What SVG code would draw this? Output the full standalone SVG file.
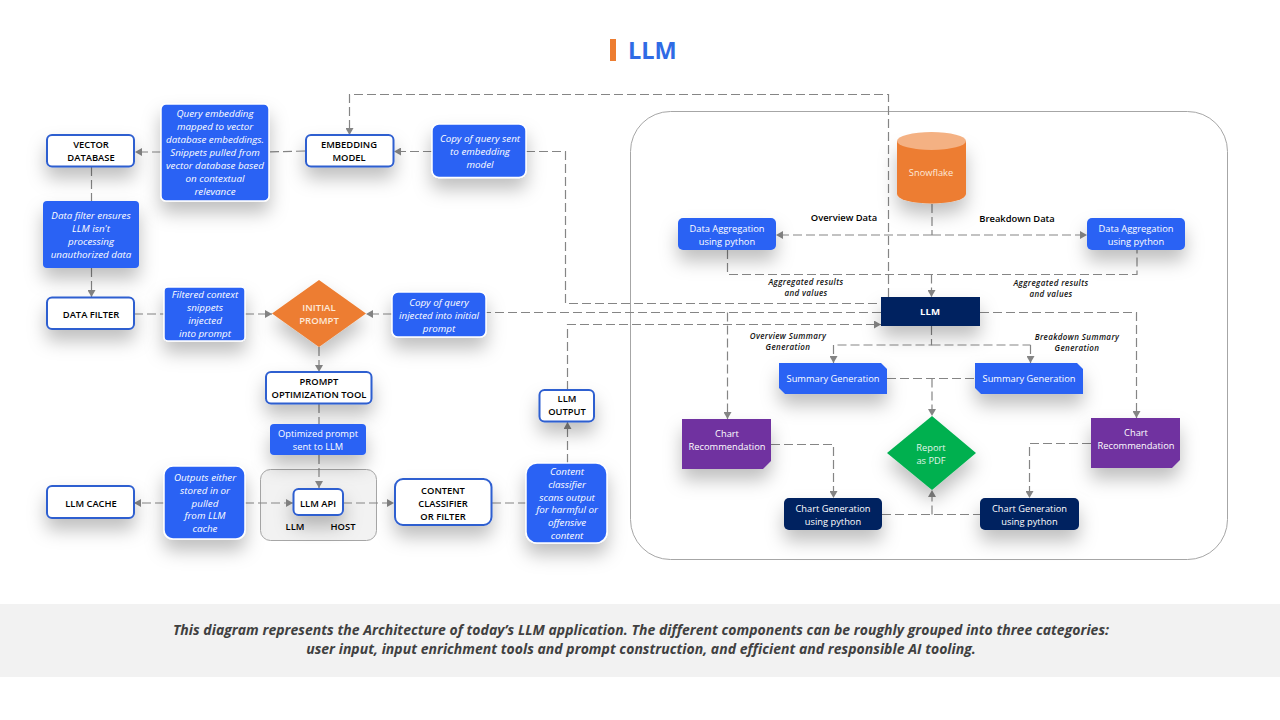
<svg xmlns="http://www.w3.org/2000/svg" width="1280" height="720" viewBox="0 0 1280 720">
<style>
text{font-family:"Open Sans","Liberation Sans",sans-serif;font-size:9.6px;text-anchor:middle}
.w{fill:#fff;stroke:#2f5fd0;stroke-width:2}
.b{fill:#2962f4;stroke:#fff;stroke-width:1.5}
.b2{fill:#2962f4}
.n{fill:#002060}
.p{fill:#7030a0}
.tw{fill:#fff;font-size:9.3px}
.ti{fill:#fff;font-style:italic;font-size:9.8px}
.tk{fill:#000;font-weight:600;font-size:9.4px}
.tc{fill:#111;font-style:italic;font-weight:600;font-size:8px;letter-spacing:.38px}
.c{fill:none;stroke:#858585;stroke-width:1.2;stroke-dasharray:9 4}
.a{marker-end:url(#ah)}
.f{font-size:14px;font-weight:700;font-style:italic;fill:#404040;letter-spacing:.03px}
</style>
<defs>
<marker id="ah" markerUnits="userSpaceOnUse" markerWidth="8" markerHeight="8" refX="7" refY="4" orient="auto"><path d="M0 0L7 4L0 8z" fill="#858585"/></marker>
<filter id="s" x="-50%" y="-50%" width="200%" height="260%"><feDropShadow dx="0" dy="11" stdDeviation="9" flood-color="#000" flood-opacity=".25"/></filter>
</defs>
<rect width="1280" height="720" fill="#fff"/>
<g id="title"><rect x="610" y="39" width="6" height="22" fill="#ed7d31"/><text x="628" y="59" style="text-anchor:start;font-size:23.500px;font-weight:700;fill:#2f6be5">LLM</text></g>
<rect id="footer-band" x="0" y="604" width="1280" height="73" fill="#f2f2f2"/>
<g id="footer"><text class="f" x="641" y="635">This diagram represents the Architecture of today’s LLM application. The different components can be roughly grouped into three categories:</text><text class="f" x="641" y="654">user input, input enrichment tools and prompt construction, and efficient and responsible AI tooling.</text></g>
<rect id="container" x="630.500" y="111.500" width="597" height="448" rx="40" fill="#fff" stroke="#a6a6a6" stroke-width="1"/>
<g id="host"><rect x="260.500" y="469.500" width="116" height="71" rx="10" fill="#f2f2f2" stroke="#a6a6a6"/><text class="tk" x="295" y="530">LLM</text><text class="tk" x="343" y="530">HOST</text></g>
<g id="connectors">
<path class="c" d="M305 151L269 152"/><path class="c a" d="M161 152H135"/>
<path class="c" d="M91.500 167V201"/><path class="c a" d="M91.500 268V297"/>
<path class="c" d="M134 314H164"/><path class="c a" d="M245 314H272"/>
<path class="c a" d="M392 314H366"/>
<path class="c" d="M881 312.500H486"/>
<path class="c a" d="M888.500 297V94.500H349.500V135"/>
<path class="c a" d="M432 151.500H394"/>
<path class="c" d="M526 151.500H565.500V303.500H881"/>
<path class="c a" d="M567.500 390V324.500H881"/>
<path class="c a" d="M727.500 312.500V419"/>
<path class="c a" d="M980 312.500H1136.500V418"/>
<path class="c" d="M727.500 250V274.500H1137V250"/>
<path class="c a" d="M931.500 274.500V297"/>
<path class="c" d="M932 204V235"/>
<path class="c a" d="M932 235H776"/><path class="c a" d="M932 235H1087"/>
<path class="c" d="M931.500 326V345H833.500"/><path class="c" d="M931.500 345H1030.500"/>
<path class="c a" d="M833.500 345V363"/><path class="c a" d="M1030.500 345V363"/>
<path class="c" d="M887 378.500H975"/><path class="c a" d="M932 378.500V416"/>
<path class="c" d="M882 514.500H980"/><path class="c a" d="M932 514.500V490"/>
<path class="c a" d="M771 444.500H833.500V498"/>
<path class="c a" d="M1091 443.500H1029.500V498"/>
<path class="c a" d="M319 347V372"/><path class="c" d="M319 404V424"/><path class="c a" d="M319 455V488"/>
<path class="c a" d="M164 503H134"/><path class="c a" d="M245 503H293"/>
<path class="c a" d="M343 503H394"/><path class="c" d="M492 503H526"/>
<path class="c a" d="M567.500 463V422"/>
</g>
<g id="vector-database"><rect class="w" x="47" y="135" width="87" height="31.500" rx="5" filter="url(#s)"/><text class="tk"><tspan x="91" y="148">VECTOR</tspan><tspan x="91" y="161">DATABASE</tspan></text></g>
<g id="query-note"><rect class="b" x="161" y="104" width="108" height="97" rx="5" filter="url(#s)"/><text class="ti"><tspan x="215" y="117">Query embedding</tspan><tspan x="215" y="130">mapped to vector</tspan><tspan x="215" y="143">database embeddings.</tspan><tspan x="215" y="155.500">Snippets pulled from</tspan><tspan x="215" y="168.500">vector database based</tspan><tspan x="215" y="181.500">on contextual</tspan><tspan x="215" y="194.500">relevance</tspan></text></g>
<g id="embedding-model"><rect class="w" x="306" y="135" width="87.500" height="31.500" rx="5" filter="url(#s)"/><text class="tk"><tspan x="349" y="148">EMBEDDING</tspan><tspan x="349" y="161">MODEL</tspan></text></g>
<g id="copy-embedding-note"><rect class="b" x="432" y="124" width="94" height="53.500" rx="7" filter="url(#s)"/><text class="ti"><tspan x="480" y="141.500">Copy of query sent</tspan><tspan x="480" y="154.500">to embedding</tspan><tspan x="480" y="167.500">model</tspan></text></g>
<g id="data-filter-note"><rect class="b2" x="43" y="201" width="96" height="67" rx="4" filter="url(#s)"/><text class="ti"><tspan x="91" y="219">Data filter ensures</tspan><tspan x="91" y="232">LLM isn't</tspan><tspan x="91" y="245">processing</tspan><tspan x="91" y="257.500">unauthorized data</tspan></text></g>
<g id="data-filter"><rect class="w" x="47" y="297.500" width="87" height="31.500" rx="5" filter="url(#s)"/><text class="tk" x="91" y="318">DATA FILTER</text></g>
<g id="filtered-note"><rect class="b" x="164" y="287" width="81" height="54" rx="4" filter="url(#s)"/><text class="ti"><tspan x="205" y="298">Filtered context</tspan><tspan x="205" y="311">snippets</tspan><tspan x="205" y="324">injected</tspan><tspan x="205" y="336.500">into prompt</tspan></text></g>
<g id="initial-prompt"><path d="M319 280L366 313.500L319 347L272 313.500Z" fill="#ed7d31" filter="url(#s)"/><text style="fill:#fde9d9;font-weight:600"><tspan x="319" y="311">INITIAL</tspan><tspan x="319" y="324">PROMPT</tspan></text></g>
<g id="copy-initial-note"><rect class="b" x="392" y="292" width="94" height="45" rx="6" filter="url(#s)"/><text class="ti"><tspan x="439" y="305.500">Copy of query</tspan><tspan x="439" y="318.500">injected into initial</tspan><tspan x="439" y="331.500">prompt</tspan></text></g>
<g id="prompt-optimization"><rect class="w" x="266" y="372" width="105.500" height="31.500" rx="5" filter="url(#s)"/><text class="tk"><tspan x="319" y="385">PROMPT</tspan><tspan x="319" y="398">OPTIMIZATION TOOL</tspan></text></g>
<g id="optimized-note"><rect class="b2" x="270" y="424" width="96" height="31" rx="4" filter="url(#s)"/><text class="tw"><tspan x="318" y="436.500">Optimized prompt</tspan><tspan x="318" y="449.500">sent to LLM</tspan></text></g>
<g id="llm-cache"><rect class="w" x="47" y="486" width="87" height="32" rx="5" filter="url(#s)"/><text class="tk" x="91" y="506.500">LLM CACHE</text></g>
<g id="outputs-note"><rect class="b" x="164" y="466" width="81" height="73" rx="9" filter="url(#s)"/><text class="ti"><tspan x="205" y="480.500">Outputs either</tspan><tspan x="205" y="493.500">stored in or</tspan><tspan x="205" y="506.500">pulled</tspan><tspan x="205" y="518.500">from LLM</tspan><tspan x="205" y="531.500">cache</tspan></text></g>
<g id="llm-api"><rect class="w" x="293.500" y="489" width="49.500" height="26" rx="5" filter="url(#s)"/><text class="tk" x="318" y="506.500">LLM API</text></g>
<g id="content-classifier"><rect class="w" x="395" y="479" width="96.500" height="46" rx="8" filter="url(#s)"/><text class="tk"><tspan x="443" y="493.500">CONTENT</tspan><tspan x="443" y="506.500">CLASSIFIER</tspan><tspan x="443" y="519.500">OR FILTER</tspan></text></g>
<g id="content-note"><rect class="b" x="526" y="463" width="81" height="80" rx="11" filter="url(#s)"/><text class="ti"><tspan x="567" y="474.500">Content</tspan><tspan x="567" y="487.500">classifier</tspan><tspan x="567" y="500.500">scans output</tspan><tspan x="567" y="512.500">for harmful or</tspan><tspan x="567" y="525.500">offensive</tspan><tspan x="567" y="538.500">content</tspan></text></g>
<g id="llm-output"><rect class="w" x="539.500" y="390" width="54.500" height="31.500" rx="5" filter="url(#s)"/><text class="tk"><tspan x="567" y="402">LLM</tspan><tspan x="567" y="415">OUTPUT</tspan></text></g>
<g id="snowflake"><path d="M897 141V194A34.500 9.500 0 0 0 966 194V141Z" fill="#ed7d31" filter="url(#s)"/><ellipse cx="931.500" cy="141" rx="34.500" ry="9" fill="#f4b183"/><text x="931" y="176" style="fill:#fde9d9;font-size:9.3px">Snowflake</text></g>
<g id="data-agg-left"><rect class="b2" x="678" y="218" width="98" height="32" rx="5" filter="url(#s)"/><text class="tw"><tspan x="727" y="231.500">Data Aggregation</tspan><tspan x="727" y="244.500">using python</tspan></text></g>
<g id="data-agg-right"><rect class="b2" x="1087" y="218" width="98" height="32" rx="5" filter="url(#s)"/><text class="tw"><tspan x="1136" y="231.500">Data Aggregation</tspan><tspan x="1136" y="244.500">using python</tspan></text></g>
<g id="llm"><rect class="n" x="881" y="297" width="99" height="29" filter="url(#s)"/><text x="930" y="315" style="fill:#fff;font-weight:700">LLM</text></g>
<g id="summary-left"><path d="M779 363H881L887 369V394H785L779 388Z" fill="#2962f4" filter="url(#s)"/><text class="tw" x="833" y="382">Summary Generation</text></g>
<g id="summary-right"><path d="M975 363H1077L1083 369V394H981L975 388Z" fill="#2962f4" filter="url(#s)"/><text class="tw" x="1029" y="382">Summary Generation</text></g>
<g id="chart-rec-left"><path d="M682 419H771V461L763 469H682Z" fill="#7030a0" filter="url(#s)"/><text class="tw"><tspan x="727" y="437">Chart</tspan><tspan x="727" y="450">Recommendation</tspan></text></g>
<g id="chart-rec-right"><path d="M1091 418H1180V460L1172 468H1091Z" fill="#7030a0" filter="url(#s)"/><text class="tw"><tspan x="1136" y="436">Chart</tspan><tspan x="1136" y="449">Recommendation</tspan></text></g>
<g id="report"><path d="M932 416L976 453L932 490L887 453Z" fill="#00b050" filter="url(#s)"/><text style="fill:#e2f5ea;font-size:9.3px"><tspan x="931" y="450.500">Report</tspan><tspan x="931" y="463.500">as PDF</tspan></text></g>
<g id="chart-gen-left"><rect class="n" x="784" y="498" width="98" height="32" rx="5" filter="url(#s)"/><text class="tw"><tspan x="833" y="511.500">Chart Generation</tspan><tspan x="833" y="524.500">using python</tspan></text></g>
<g id="chart-gen-right"><rect class="n" x="980" y="498" width="99" height="32" rx="5" filter="url(#s)"/><text class="tw"><tspan x="1029.500" y="511.500">Chart Generation</tspan><tspan x="1029.500" y="524.500">using python</tspan></text></g>
<g id="labels">
<text class="tk" x="844" y="221">Overview Data</text>
<text class="tk" x="1017" y="222">Breakdown Data</text>
<text class="tc"><tspan x="806" y="285">Aggregated results</tspan><tspan x="806" y="296">and values</tspan></text>
<text class="tc"><tspan x="1051" y="286">Aggregated results</tspan><tspan x="1051" y="297">and values</tspan></text>
<text class="tc"><tspan x="788" y="339">Overview Summary</tspan><tspan x="788" y="350">Generation</tspan></text>
<text class="tc"><tspan x="1077" y="340">Breakdown Summary</tspan><tspan x="1077" y="351">Generation</tspan></text>
</g>
</svg>
